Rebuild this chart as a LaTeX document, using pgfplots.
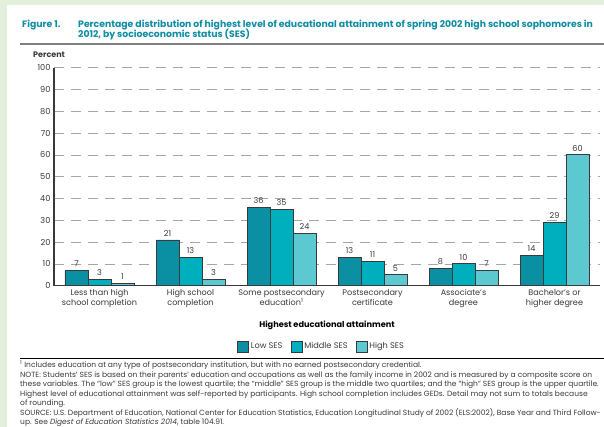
\documentclass[border=0pt]{standalone}
\usepackage{fontspec}
\setmainfont{Poppins}
\usepackage{pgfplots}
\pgfplotsset{compat=1.18}
\definecolor{bgGreen}{HTML}{E4F0DC}
\definecolor{titleTeal}{HTML}{0E8DA3}
\definecolor{lowSES}{HTML}{0A8FA3}
\definecolor{midSES}{HTML}{00AFBE}
\definecolor{highSES}{HTML}{5CC9D1}
\definecolor{txt}{HTML}{3A3A3A}
\pgfplotstableread{
x low mid high
0 7 3 1
1 21 13 3
2 36 35 24
3 13 11 5
4 8 10 7
5 14 29 60
}\datatable
\begin{document}
\begin{tikzpicture}[x=1pt,y=1pt]
\useasboundingbox (0,0) rectangle (604,427);
\clip (0,0) rectangle (604,427);
\fill[bgGreen] (0,0) rectangle (604,427);
\fill[white] (7,0) rectangle (604,422);
% title
\node[anchor=base west, text=titleTeal, font=\fontsize{9.3}{11}\selectfont\bfseries, inner sep=0] at (22,399) {Figure 1.};
\node[anchor=base west, text=titleTeal, font=\fontsize{9.3}{11}\selectfont\bfseries, inner sep=0] at (78,399) {Percentage distribution of highest level of educational attainment of spring 2002 high school sophomores in};
\node[anchor=base west, text=titleTeal, font=\fontsize{9.3}{11}\selectfont\bfseries, inner sep=0] at (78,389) {2012, by socioeconomic status (SES)};
\draw[gray, line width=1.6pt] (20,383) -- (604,383);
\node[anchor=base west, text=txt, font=\fontsize{8}{9}\selectfont\bfseries, inner sep=0] at (33,369) {Percent};
\draw[black, line width=0.8pt] (20,69) -- (604,69);
% notes
\begin{scope}[every node/.style={anchor=base west, text=txt, font=\fontsize{7.5}{8}\selectfont, inner sep=0}]
\node at (20,59) {\textsuperscript{1} Includes education at any type of postsecondary institution, but with no earned postsecondary credential.};
\node at (20,49.5) {NOTE: Students’ SES is based on their parents’ education and occupations as well as the family income in 2002 and is measured by a composite score on};
\node at (20,40) {these variables. The “low” SES group is the lowest quartile; the “middle” SES group is the middle two quartiles; and the “high” SES group is the upper quartile.};
\node at (20,30.5) {Highest level of educational attainment was self-reported by participants. High school completion includes GEDs. Detail may not sum to totals because};
\node at (20,21) {of rounding.};
\node at (20,11.5) {SOURCE: U.S. Department of Education, National Center for Education Statistics, Education Longitudinal Study of 2002 (ELS:2002), Base Year and Third Follow-};
\node at (20,2) {up. See \textit{Digest of Education Statistics 2014}, table 104.91.};
\end{scope}
\begin{axis}[
  at={(54pt,141.3pt)}, anchor=south west,
  scale only axis, width=546pt, height=218pt,
  xmin=-0.5, xmax=5.5, ymin=0, ymax=100,
  axis x line=bottom, axis y line=left,
  axis line style={draw=txt, line width=1.1pt, -},
  ytick={0,10,...,100},
  xtick=data,
  xticklabels={{Less than high\\school completion},{High school\\completion},{Some postsecondary\\education\textsuperscript{1}},{Postsecondary\\certificate},{Associate’s\\degree},{Bachelor’s or\\higher degree}},
  xticklabel style={align=center, font=\fontsize{8.1}{10}\selectfont, text=txt},
  yticklabel style={font=\fontsize{8.2}{9}\selectfont, text=txt},
  /pgf/number format/assume math mode=true,
  major tick length=0pt,
  ymajorgrids,
  grid style={dash pattern=on 10pt off 7pt, draw=gray!70, line width=0.6pt},
  ybar=0pt, bar width=23pt,
  nodes near coords,
  every node near coord/.append style={font=\fontsize{8.1}{9}\selectfont, text=txt},
  xlabel={Highest educational attainment},
  xlabel style={font=\fontsize{8.2}{9}\selectfont\bfseries, text=black, at={(0.5,-0.18)}, anchor=center},
  legend columns=3,
  legend style={at={(0.49,-0.279)}, anchor=center, draw=none, font=\fontsize{8.2}{9}\selectfont, text=txt, /tikz/every even column/.append style={column sep=6pt}},
  legend image code/.code={\draw[#1, draw=txt, line width=0.8pt] (0pt,-5.5pt) rectangle (11pt,5.5pt);},
]
\addplot[fill=lowSES, draw=txt, line width=0.8pt] table[x=x,y=low]{\datatable};
\addplot[fill=midSES, draw=txt, line width=0.8pt] table[x=x,y=mid]{\datatable};
\addplot[fill=highSES, draw=txt, line width=0.8pt] table[x=x,y=high]{\datatable};
\legend{Low SES, Middle SES, High SES}
\end{axis}
\end{tikzpicture}
\end{document}
